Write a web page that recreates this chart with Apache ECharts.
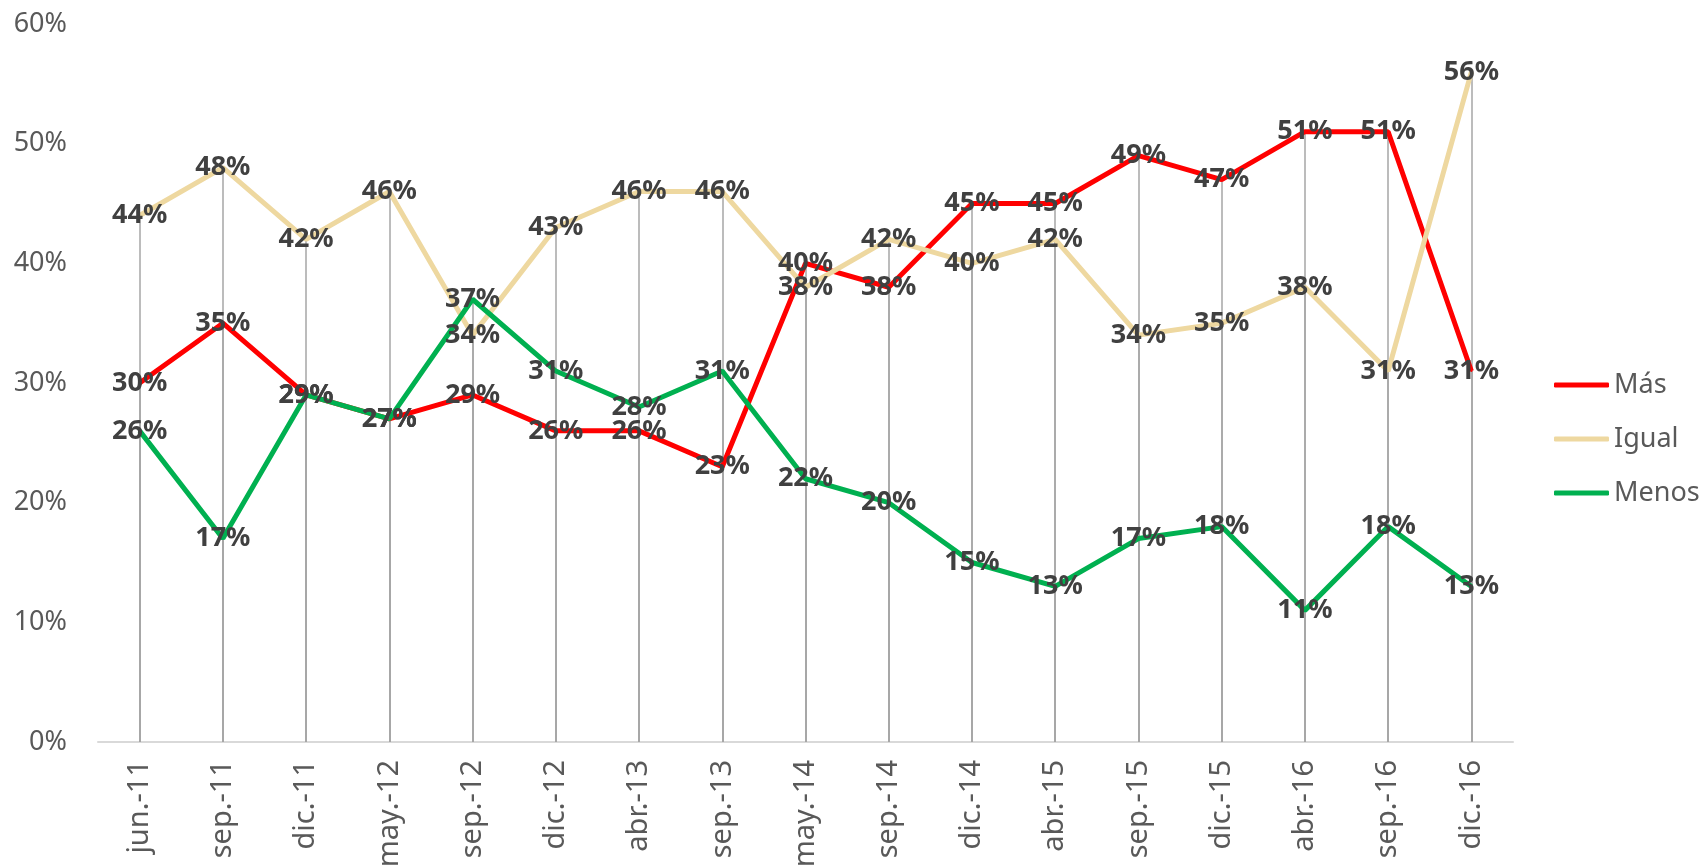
<!DOCTYPE html>
<html>
<head>
<meta charset="utf-8">
<script src="https://cdn.jsdelivr.net/npm/echarts@6/dist/echarts.min.js"></script>
<style>
    html, body { margin: 0; padding: 0; background: #fff; }
    #chart { width: 1706px; height: 865px; }
</style>
</head>
<body>
<div id="chart"></div>
<script>
var categories = [
    "jun.-11", "sep.-11", "dic.-11", "may.-12", "sep.-12", "dic.-12",
    "abr.-13", "sep.-13", "may.-14", "sep.-14", "dic.-14", "abr.-15",
    "sep.-15", "dic.-15", "abr.-16", "sep.-16", "dic.-16",
];
var masData = [30, 35, 29, 27, 29, 26, 26, 23, 40, 38, 45, 45, 49, 47, 51, 51, 31];
var igualData = [44, 48, 42, 46, 34, 43, 46, 46, 38, 42, 40, 42, 34, 35, 38, 31, 56];
var menosData = [26, 17, 29, 27, 37, 31, 28, 31, 22, 20, 15, 13, 17, 18, 11, 18, 13];

var fontName = "Noto Sans";

// drop lines from each point to the axis
function dropLines(data) {
    return data.map(function (v, i) {
        return [{ coord: [i, 0] }, { coord: [i, v] }];
    });
}

function makeSeries(name, color, data) {
    return {
        name: name,
        type: "line",
        data: data,
        symbol: "circle",
        symbolSize: 2,
        showSymbol: true,
        itemStyle: {
            color: color,
        },
        lineStyle: {
            width: 5,
            color: color,
        },
        label: {
            show: true,
            position: "inside",
            formatter: "{c}%",
            color: "#404040",
            fontFamily: fontName,
            fontWeight: "bold",
            fontSize: 27,
        },
        emphasis: {
            disabled: true,
        },
        markLine: {
            silent: true,
            symbol: "none",
            label: { show: false },
            lineStyle: {
                color: "#a6a6a6",
                width: 1.5,
                type: "solid",
            },
            emphasis: { disabled: true },
            z: 1,
            data: dropLines(data),
        },
    };
}

var option = {
    animation: false,
    backgroundColor: "#fff",
    grid: {
        left: 98,
        right: 193,
        top: 24,
        bottom: 123,
        outerBoundsMode: "none",
    },
    legend: {
        orient: "vertical",
        left: 1549,
        top: 364,
        itemWidth: 55,
        itemHeight: 5,
        itemGap: 22,
        icon: "roundRect",
        textStyle: {
            fontFamily: fontName,
            fontSize: 27,
            lineHeight: 32,
            color: "#595959",
        },
        data: ["Más", "Igual", "Menos"],
    },
    xAxis: {
        type: "category",
        boundaryGap: true,
        data: categories,
        axisLine: {
            lineStyle: {
                color: "#d9d9d9",
                width: 2,
            },
        },
        axisTick: { show: false },
        axisLabel: {
            rotate: 90,
            margin: 18,
            interval: 0,
            color: "#595959",
            fontFamily: fontName,
            fontSize: 29,
        },
    },
    yAxis: {
        type: "value",
        min: 0,
        max: 60,
        interval: 10,
        splitLine: { show: false },
        axisLine: { show: false },
        axisTick: { show: false },
        axisLabel: {
            formatter: "{value}%",
            margin: 31,
            color: "#595959",
            fontFamily: fontName,
            fontSize: 27,
        },
    },
    series: [
        makeSeries("Más", "#ff0000", masData),
        makeSeries("Igual", "#eed8a0", igualData),
        makeSeries("Menos", "#00b050", menosData),
    ],
};

var myChart = echarts.init(document.getElementById("chart"));
myChart.setOption(option);
</script>
</body>
</html>
